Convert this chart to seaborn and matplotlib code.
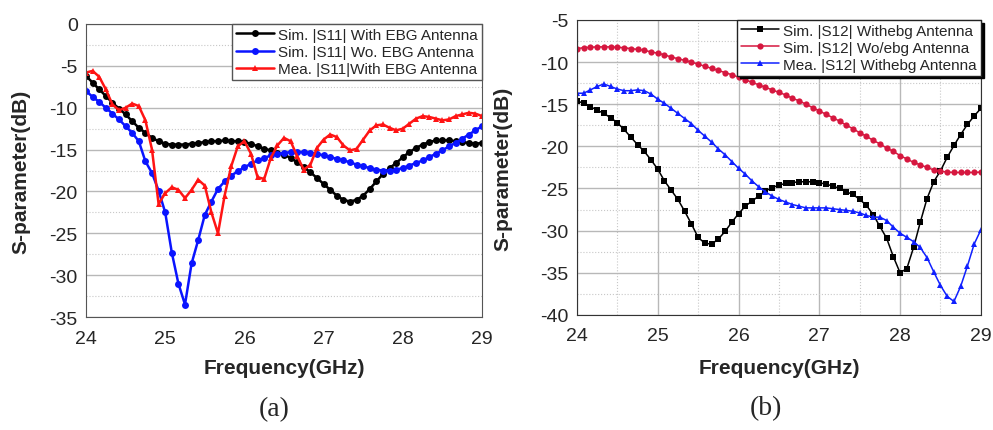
import numpy as np
import pandas as pd
import matplotlib
matplotlib.use("Agg")
import matplotlib.pyplot as plt
import seaborn as sns
from matplotlib.ticker import MultipleLocator

# frequency grid (GHz), 61 samples between 24 and 29
freq = np.linspace(24, 29, 61)

# (a) |S11|
s11_sim_ebg = [
    -6.2, -7.0, -7.8, -8.6, -9.4, -10.1, -10.8, -11.6, -12.4, -13.0,
    -13.6, -14.0, -14.3, -14.4, -14.4, -14.4, -14.3, -14.2, -14.1, -14.0,
    -14.0, -13.9, -14.0, -14.0, -14.1, -14.3, -14.6, -14.9, -15.1, -15.4,
    -15.6, -16.0, -16.5, -17.1, -17.7, -18.4, -19.1, -19.8, -20.5, -21.0,
    -21.2, -21.0, -20.5, -19.7, -18.8, -17.9, -17.2, -16.6, -15.9, -15.3,
    -14.8, -14.4, -14.1, -13.9, -13.9, -13.9, -14.0, -14.1, -14.2, -14.3,
    -14.2,
]
s11_sim_noebg = [
    -8.0, -8.7, -9.3, -10.0, -10.7, -11.4, -12.2, -13.0, -14.0, -16.4,
    -17.8, -19.9, -22.5, -27.3, -31.0, -33.5, -28.6, -25.8, -22.8, -21.2,
    -19.7, -18.8, -18.1, -17.6, -17.1, -16.7, -16.3, -16.0, -15.7, -15.5,
    -15.4, -15.3, -15.3, -15.3, -15.4, -15.5, -15.7, -15.9, -16.1, -16.3,
    -16.5, -16.8, -17.0, -17.2, -17.4, -17.5, -17.5, -17.4, -17.2, -16.9,
    -16.6, -16.3, -15.9, -15.5, -15.1, -14.6, -14.2, -13.7, -13.2, -12.7,
    -12.2,
]
s11_mea_ebg = [
    -5.8, -5.6, -6.3, -7.8, -9.6, -10.3, -10.0, -9.5, -9.8, -11.5,
    -15.0, -21.5, -20.2, -19.5, -19.8, -20.8, -19.8, -18.6, -19.3, -22.5,
    -25.0, -20.5, -17.0, -14.6, -14.0, -15.5, -18.3, -18.5, -16.0, -14.5,
    -13.6, -14.0, -15.8, -17.4, -16.8, -14.8, -13.8, -13.2, -13.5, -14.5,
    -15.1, -14.9, -13.8, -12.7, -12.1, -12.0, -12.4, -12.7, -12.5, -11.9,
    -11.3, -11.0, -11.1, -11.3, -11.5, -11.4, -11.0, -10.8, -10.6, -10.7,
    -11.0,
]

# (b) |S12|
s12_sim_ebg = [
    -14.6, -14.9, -15.3, -15.7, -16.1, -16.6, -17.2, -18.0, -18.9, -19.8,
    -20.6, -21.6, -22.7, -24.1, -25.2, -26.3, -27.7, -29.2, -30.8, -31.5,
    -31.6, -31.0, -30.1, -29.0, -28.0, -27.1, -26.5, -25.9, -25.3, -24.9,
    -24.6, -24.4, -24.3, -24.2, -24.2, -24.2, -24.3, -24.5, -24.7, -25.0,
    -25.4, -25.7, -26.3, -27.0, -28.1, -29.5, -30.9, -33.1, -35.0, -34.5,
    -32.0, -29.0, -26.2, -24.2, -22.9, -21.3, -19.9, -18.6, -17.4, -16.4,
    -15.5,
]
s12_sim_noebg = [
    -8.4, -8.3, -8.25, -8.2, -8.2, -8.2, -8.25, -8.3, -8.4, -8.5,
    -8.6, -8.8, -8.95, -9.15, -9.4, -9.6, -9.8, -10.0, -10.25, -10.5,
    -10.75, -11.0, -11.25, -11.5, -11.8, -12.1, -12.4, -12.7, -13.0, -13.3,
    -13.6, -13.9, -14.3, -14.6, -15.0, -15.4, -15.8, -16.2, -16.6, -17.0,
    -17.5, -17.9, -18.4, -18.8, -19.3, -19.7, -20.2, -20.6, -21.1, -21.5,
    -21.9, -22.2, -22.5, -22.8, -22.95, -23.05, -23.1, -23.1, -23.1, -23.1,
    -23.05,
]
s12_mea_ebg = [
    -13.7, -13.7, -13.3, -12.9, -12.6, -12.9, -13.2, -13.4, -13.4, -13.3,
    -13.4, -13.8, -14.4, -14.9, -15.5, -16.1, -16.7, -17.3, -18.1, -18.8,
    -19.5, -20.3, -21.0, -21.8, -22.6, -23.3, -24.1, -24.8, -25.4, -25.9,
    -26.3, -26.6, -26.9, -27.1, -27.3, -27.3, -27.3, -27.3, -27.4, -27.5,
    -27.6, -27.7, -27.9, -28.2, -28.4, -28.4, -28.8, -29.6, -30.3, -30.8,
    -31.3, -32.0, -33.2, -34.9, -36.5, -37.8, -38.4, -36.6, -34.2, -31.6,
    -29.9,
]

labels_a = ["Sim. |S11| With EBG Antenna", "Sim. |S11| Wo. EBG Antenna", "Mea. |S11|With EBG Antenna"]
labels_b = ["Sim. |S12| Withebg Antenna", "Sim. |S12| Wo/ebg Antenna", "Mea. |S12| Withebg Antenna"]

sns.set_style("white")
plt.rcParams["font.family"] = ["Liberation Sans", "DejaVu Sans"]
plt.rcParams["axes.unicode_minus"] = False

fig = plt.figure(figsize=(9.93, 4.31), dpi=100)
ax1 = fig.add_axes([0.0866, 0.262, 0.3988, 0.680])
ax2 = fig.add_axes([0.581, 0.267, 0.4068, 0.6845])

legend_kw = dict(loc="upper right", fontsize=11, frameon=True, fancybox=False,
                 borderaxespad=0, handlelength=2.5, handletextpad=0.3,
                 labelspacing=0.2, borderpad=0.25, framealpha=1)

# ─── panel (a) ────────────────────────────────────────────────────────────────
style_a = [("#000000", "o"), ("#0a14ff", "o"), ("#ff1414", "^")]
for vals, lab, (col, mk) in zip([s11_sim_ebg, s11_sim_noebg, s11_mea_ebg], labels_a, style_a):
    sns.lineplot(x=freq, y=vals, ax=ax1, color=col, marker=mk, markersize=5,
                 markeredgewidth=0, linewidth=1.8, label=lab)

ax1.set_xlim(24, 29)
ax1.set_ylim(-35, 0)
ax1.grid(axis="y", which="major", color="#b8b8b8", linewidth=1.0)
ax1.grid(axis="y", which="minor", color="#c8c8c8", linewidth=0.8, linestyle=":")
for sp in ax1.spines.values():
    sp.set_color("#555555")
ax1.legend(edgecolor="#555555", **legend_kw)

# ─── panel (b) ────────────────────────────────────────────────────────────────
style_b = [("#000000", "s"), ("#d6173f", "o"), ("#1020ff", "^")]
for vals, lab, (col, mk) in zip([s12_sim_ebg, s12_sim_noebg, s12_mea_ebg], labels_b, style_b):
    sns.lineplot(x=freq, y=vals, ax=ax2, color=col, marker=mk, markersize=4.5,
                 markeredgewidth=0, linewidth=1.1, label=lab)

ax2.set_xlim(24, 29)
ax2.set_ylim(-40, -5)
ax2.grid(which="major", color="#b8b8b8", linewidth=1.0)
ax2.grid(which="minor", color="#c8c8c8", linewidth=0.8, linestyle=":")
for sp in ax2.spines.values():
    sp.set_color("#333333")
ax2.legend(edgecolor="#222222", shadow={"facecolor": "black", "edgecolor": "black", "alpha": 1},
           **legend_kw)

for ax in (ax1, ax2):
    ax.xaxis.set_major_locator(MultipleLocator(1))
    ax.xaxis.set_minor_locator(MultipleLocator(0.5))
    ax.yaxis.set_major_locator(MultipleLocator(5))
    ax.yaxis.set_minor_locator(MultipleLocator(2.5))
    ax.set_axisbelow(True)
    ax.tick_params(which="both", direction="in", labelsize=14, color="#444444")
    ax.tick_params(which="major", length=5)
    ax.tick_params(which="minor", length=3)
    ax.tick_params(axis="x", which="major", pad=9)
    ax.tick_params(axis="y", which="major", pad=6)
    ax.set_xlabel("Frequency(GHz)", fontsize=15, fontweight="bold")
    ax.set_ylabel("S-parameter(dB)", fontsize=15, fontweight="bold")

ax1.xaxis.set_label_coords(0.5, -0.14)
ax1.yaxis.set_label_coords(-0.14, 0.5)
ax2.xaxis.set_label_coords(0.5, -0.145)
ax2.yaxis.set_label_coords(-0.16, 0.5)

fig.text(0.276, 0.049, "(a)", family=["Liberation Serif"], fontsize=20, ha="center", va="center")
fig.text(0.771, 0.053, "(b)", family=["Liberation Serif"], fontsize=20, ha="center", va="center")

fig.savefig("out.png", dpi=100)
